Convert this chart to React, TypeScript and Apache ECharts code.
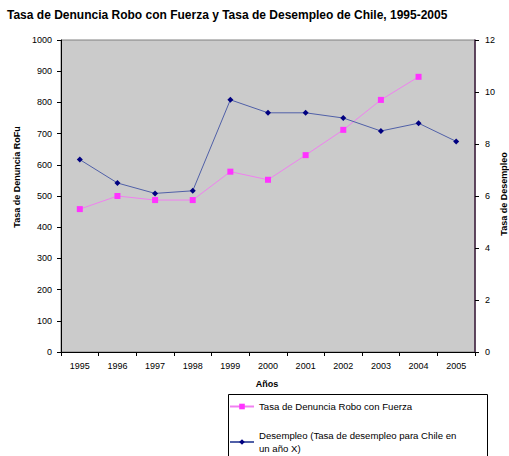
import React, { useEffect, useRef } from "react";
import * as echarts from "echarts";

const years = ["1995", "1996", "1997", "1998", "1999", "2000", "2001", "2002", "2003", "2004", "2005"];
const robos = [458, 500, 487, 487, 578, 552, 631, 712, 808, 882, null];
const desempleo = [7.4, 6.5, 6.1, 6.2, 9.7, 9.2, 9.2, 9.0, 8.5, 8.8, 8.1];
const leftTicks = [0, 100, 200, 300, 400, 500, 600, 700, 800, 900, 1000];
const rightTicks = [0, 2, 4, 6, 8, 10, 12];
const seriesNames = ["Tasa de Denuncia Robo con Fuerza", "Desempleo (Tasa de desempleo para Chile en un año X)"];

const FONT = "Liberation Sans, Arial, sans-serif";

export default function App() {
  const ref = useRef<HTMLDivElement>(null);
  useEffect(() => {
    if (!ref.current) return;
    const chart = echarts.init(ref.current, null, { renderer: "svg" });
    const legendBase = {
      orient: "vertical",
      left: 229,
      itemWidth: 24,
      itemHeight: 7,
      padding: 0,
      textStyle: { fontFamily: FONT, fontSize: 9.6, color: "#000", lineHeight: 13 },
      formatter: (name: string) => name.replace(" en un", " en\nun"),
    };
    chart.setOption({
      animation: false,
      textStyle: { fontFamily: FONT },
      title: {
        text: "Tasa de Denuncia Robo con Fuerza y Tasa de Desempleo de Chile, 1995-2005",
        left: 2,
        top: 4,
        textStyle: { fontFamily: FONT, fontSize: 12, fontWeight: "bold", color: "#000" },
      },
      grid: { left: 61, right: 34, top: 40, bottom: 104, show: true, backgroundColor: "#CBCBCB", borderColor: "#808080", borderWidth: 1 },
      xAxis: {
        type: "category",
        data: years,
        boundaryGap: true,
        axisLine: { lineStyle: { color: "#000", width: 1 } },
        axisTick: { show: true, length: 4, interval: 0, lineStyle: { color: "#000" } },
        axisLabel: { color: "#000", fontSize: 9, margin: 9, interval: 0 },
        splitLine: { show: false },
      },
      yAxis: [
        {
          type: "value",
          min: leftTicks[0],
          max: leftTicks[leftTicks.length - 1],
          interval: 100,
          position: "left",
          axisLine: { show: true, lineStyle: { color: "#000" } },
          axisTick: { show: true, length: 4, lineStyle: { color: "#000" } },
          axisLabel: { color: "#000", fontSize: 9, margin: 9, formatter: (v: number) => String(v) },
          splitLine: { show: false },
        },
        {
          type: "value",
          min: rightTicks[0],
          max: rightTicks[rightTicks.length - 1],
          interval: 2,
          position: "right",
          axisLine: { show: true, lineStyle: { color: "#402040", width: 1.5 } },
          axisTick: { show: true, length: 4, lineStyle: { color: "#000" } },
          axisLabel: { color: "#000", fontSize: 9, margin: 10, formatter: (v: number) => String(v) },
          splitLine: { show: false },
        },
      ],
      legend: [
        { ...legendBase, top: 400, data: [seriesNames[0]] },
        { ...legendBase, top: 429, data: [seriesNames[1]] },
      ],
      graphic: [
        {
          type: "rect",
          shape: { x: 228.5, y: 394.5, width: 259, height: 70 },
          style: { fill: "none", stroke: "#000", lineWidth: 1 },
          z: 10,
        },
        {
          type: "text",
          x: 17,
          y: 177,
          rotation: Math.PI / 2,
          style: { text: "Tasa de Denuncia RoFu", font: `bold 9px ${FONT}`, fill: "#000", align: "center", verticalAlign: "middle" },
        },
        {
          type: "text",
          x: 504,
          y: 194,
          rotation: Math.PI / 2,
          style: { text: "Tasa de Desempleo", font: `bold 9px ${FONT}`, fill: "#000", align: "center", verticalAlign: "middle" },
        },
        {
          type: "text",
          x: 267,
          y: 384,
          style: { text: "Años", font: `bold 9px ${FONT}`, fill: "#000", align: "center", verticalAlign: "middle" },
        },
      ],
      series: [
        {
          name: seriesNames[0],
          type: "line",
          yAxisIndex: 0,
          data: robos,
          symbol: "rect",
          symbolSize: 6,
          itemStyle: { color: "#FF33FF" },
          lineStyle: { color: "#F080F0", width: 1 },
          z: 3,
        },
        {
          name: seriesNames[1],
          type: "line",
          yAxisIndex: 1,
          data: desempleo,
          symbol: "diamond",
          symbolSize: 6,
          itemStyle: { color: "#000080" },
          lineStyle: { color: "#5060A8", width: 1 },
          z: 4,
        },
      ],
    });
    return () => chart.dispose();
  }, []);
  return <div ref={ref} style={{ width: 509, height: 456, position: "absolute", left: 0, top: 0, background: "#fff" }} />;
}
